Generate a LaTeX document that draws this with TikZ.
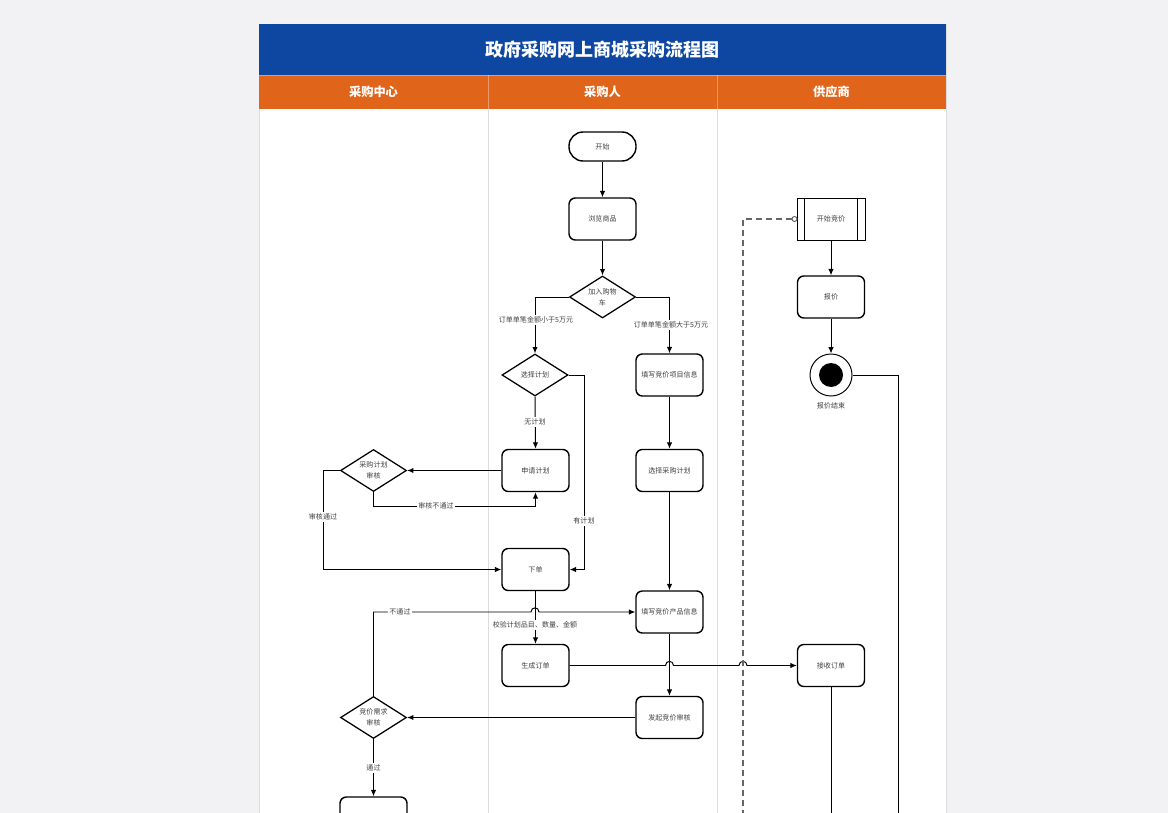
\documentclass[tikz,border=0pt]{standalone}
\usepackage{fontspec}
\setmainfont{Noto Sans CJK SC}
\usetikzlibrary{shapes.geometric,arrows.meta,calc}
\definecolor{pagebg}{HTML}{F2F2F4}
\definecolor{titleblue}{HTML}{0E47A1}
\definecolor{laneorange}{HTML}{E0651A}
\definecolor{lanegray}{HTML}{DDDDDD}
\definecolor{txt}{HTML}{404040}
\definecolor{dashgray}{HTML}{666666}
\newcommand\smallcjk{\fontsize{5.0}{7.8}\selectfont}
\tikzset{
  proc/.style={draw, line width=1pt, rounded corners=4.5pt, minimum width=1.675cm, minimum height=1.05cm, inner sep=1pt, font=\smallcjk, text=txt, fill=white, align=center},
  term/.style={draw, line width=1pt, rounded corners=10pt, minimum width=1.675cm, minimum height=0.725cm, inner sep=1pt, font=\smallcjk, text=txt, fill=white},
  dec/.style={draw, diamond, line width=0.9pt, minimum width=1.65cm, minimum height=1.05cm, inner sep=0pt, shape aspect=1.57, align=center, font=\smallcjk, text=txt, fill=white},
  predef/.style={draw, line width=0.7pt, minimum width=1.7cm, minimum height=1.05cm, inner sep=1pt, font=\smallcjk, text=txt, fill=white},
  lbl/.style={fill=white, font=\smallcjk, text=txt, inner sep=1.2pt},
  conn/.style={line width=0.7pt, -{Latex[length=4.5pt,width=3.8pt]}},
  plain/.style={line width=0.7pt},
  lanehead/.style={font=\fontsize{8.7}{10}\bfseries\selectfont, text=white},
}
\begin{document}
\begin{tikzpicture}[x=0.025cm,y=-0.025cm]
\useasboundingbox (0,0) rectangle (1168,813);
\clip (0,0) rectangle (1168,813);
\fill[pagebg] (0,0) rectangle (1168,813);
% panel
\fill[white] (259,24) rectangle (946,830);
\draw[lanegray, line width=0.6pt] (259,24) -- (259,830) (946,24) -- (946,830);
\fill[titleblue] (259,24) rectangle (946,75);
\fill[laneorange] (259,75) rectangle (946,109);
\draw[lanegray, line width=0.7pt] (488,109) -- (488,830) (717,109) -- (717,830);
\draw[white, opacity=0.35, line width=0.7pt] (488,75) -- (488,109) (717,75) -- (717,109);
\draw[white, opacity=0.35, line width=0.7pt] (259,75) -- (946,75);
\node[font=\fontsize{12.8}{15}\bfseries\selectfont, text=white] (title) at (602.5,50) {政府采购网上商城采购流程图};
\node[lanehead] (h1) at (373.5,92) {采购中心};
\node[lanehead] (h2) at (602.5,92) {采购人};
\node[lanehead] (h3) at (831.5,92) {供应商};

% purchaser lane
\node[term] (start) at (602.5,146.5) {开始};
\node[proc] (browse) at (602.5,219) {浏览商品};
\node[dec] (cart) at (602.5,297) {加入购物\\车};
\node[dec] (selplan) at (535,375) {选择计划};
\node[proc] (fillproj) at (669.5,375) {填写竞价项目信息};
\node[proc] (apply) at (535.5,470.5) {申请计划};
\node[proc] (selbuy) at (669.5,470.5) {选择采购计划};
\node[proc] (order) at (535.5,569.5) {下单};
\node[proc] (fillprod) at (669.5,612) {填写竞价产品信息};
\node[proc] (genord) at (535.5,665.5) {生成订单};
\node[proc] (launch) at (669.5,717.5) {发起竞价审核};

% center lane
\node[dec] (plrev) at (373.5,470.5) {采购计划\\审核};
\node[dec] (bidrev) at (373.5,717.5) {竞价需求\\审核};
\node[proc] (last) at (373.5,818) {};

% supplier lane
\node[predef] (bidstart) at (831,219) {开始竞价};
\draw[line width=0.7pt] ([xshift=8*0.025cm]bidstart.north west) -- ([xshift=8*0.025cm]bidstart.south west)
  ([xshift=-8*0.025cm]bidstart.north east) -- ([xshift=-8*0.025cm]bidstart.south east);
\node[proc] (quote) at (831,297) {报价};
\node[circle, draw, line width=0.7pt, minimum size=1.05cm, inner sep=0pt, fill=white] (qend) at (831,375) {};
\fill[black] (qend.center) circle (12);
\node[lbl, fill=none] (qendlbl) at (831,406) {报价结束};
\node[proc] (recv) at (831,665.5) {接收订单};

% connectors
\draw[conn] (start) -- (browse);
\draw[conn] (browse) -- (cart);
\draw[conn] (cart.west) -| (selplan.north);
\node[lbl] (l1) at (536,320) {订单单笔金额小于5万元};
\draw[conn] (cart.east) -| (fillproj.north);
\node[lbl] (l2) at (671,325) {订单单笔金额大于5万元};
\draw[conn] (selplan.south) -- (apply.north);
\node[lbl] (l3) at (535,422) {无计划};
\coordinate (xr) at (584,375);
\draw[conn] (selplan.east) -- (xr) |- (order.east);
\node[lbl] (l4) at (584,521) {有计划};
\draw[conn] (apply.west) -- (plrev.east);
\coordinate (yb) at (373.5,506);
\draw[conn] (plrev.south) -- (yb) -| (apply.south);
\node[lbl] (l5) at (436,506) {审核不通过};
\coordinate (xl) at (323,470.5);
\draw[conn] (plrev.west) -- (xl) |- (order.west);
\node[lbl] (l6) at (323,517) {审核通过};
\draw[conn] (order.south) -- (genord.north);
\node[lbl] (l7) at (535,625) {校验计划品目、数量、金额};
\draw[conn] (fillproj.south) -- (selbuy.north);
\draw[conn] (selbuy.south) -- (fillprod.north);
\draw[conn] (fillprod.south) -- (launch.north);
\draw[conn] (launch.west) -- (bidrev.east);
\coordinate (ny) at (373.5,612);
\draw[conn] (bidrev.north) -- (ny) -- (531,612) .. controls (531,606.5) and (539,606.5) .. (539,612) -- (fillprod.west);
\node[lbl] (l8) at (400,612) {不通过};
\draw[conn] (bidrev.south) -- (last.north);
\node[lbl] (l9) at (373.5,768) {通过};
\draw[conn] (genord.east) -- (665.5,665.5) .. controls (665.5,660) and (673.5,660) .. (673.5,665.5) -- (739,665.5) .. controls (739,660) and (747,660) .. (747,665.5) -- (recv.west);
\draw[conn] (bidstart.south) -- (quote.north);
\draw[conn] (quote.south) -- (qend.north);
\coordinate (xq) at (898,375);
\coordinate (xqb) at (898,830);
\draw[plain] (qend.east) -- (xq) -- (xqb);
\coordinate (rb) at (831,830);
\draw[plain] (recv.south) -- (rb);
\node[circle, draw=dashgray, line width=0.7pt, inner sep=0pt, minimum size=5*0.025cm, fill=white] (dot) at (794.5,219) {};
\coordinate (dc) at (743,219);
\coordinate (db) at (743,830);
\draw[dashgray, line width=1pt, dash pattern=on 6*0.025cm off 4*0.025cm] (dot.west) -- (dc) -- (db);
\end{tikzpicture}
\end{document}
